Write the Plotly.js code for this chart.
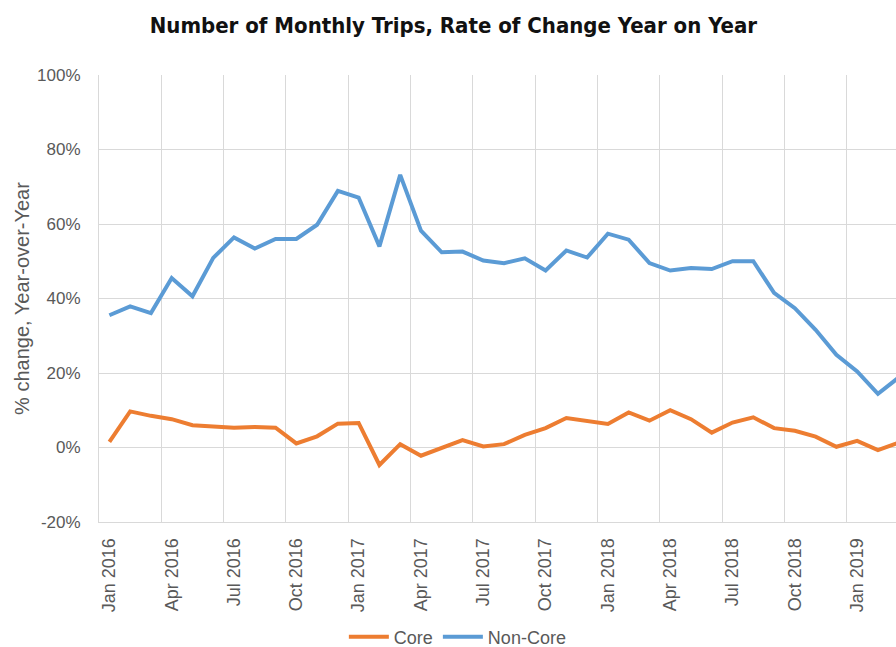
<!DOCTYPE html>
<html>
<head>
<meta charset="utf-8">
<script src="https://cdn.plot.ly/plotly-3.0.1.min.js"></script>
<style>
html,body{margin:0;padding:0;background:#fff;overflow:hidden;}
#chart{width:896px;height:647px;}
</style>
</head>
<body>
<div id="chart"></div>
<script>
var months = ["Jan 2016","Feb 2016","Mar 2016","Apr 2016","May 2016","Jun 2016","Jul 2016","Aug 2016","Sep 2016","Oct 2016","Nov 2016","Dec 2016",
  "Jan 2017","Feb 2017","Mar 2017","Apr 2017","May 2017","Jun 2017","Jul 2017","Aug 2017","Sep 2017","Oct 2017","Nov 2017","Dec 2017",
  "Jan 2018","Feb 2018","Mar 2018","Apr 2018","May 2018","Jun 2018","Jul 2018","Aug 2018","Sep 2018","Oct 2018","Nov 2018","Dec 2018",
  "Jan 2019","Feb 2019","Mar 2019"];
var core = [1.5, 9.7, 8.5, 7.6, 6.0, 5.6, 5.3, 5.5, 5.3, 1.1, 3.0, 6.4,
  6.6, -4.7, 0.9, -2.2, 0.0, 2.0, 0.3, 0.9, 3.4, 5.2, 7.9, 7.2,
  6.3, 9.4, 7.2, 10.0, 7.6, 4.0, 6.7, 8.1, 5.2, 4.5, 2.9, 0.2,
  1.8, -0.7, 1.3];
var nonCore = [35.5, 37.9, 36.1, 45.5, 40.6, 50.9, 56.4, 53.4, 56.0, 56.0, 59.8, 68.9,
  67.1, 54.0, 73.2, 58.2, 52.4, 52.6, 50.2, 49.5, 50.8, 47.5, 52.9, 51.0,
  57.4, 55.8, 49.5, 47.5, 48.2, 47.9, 50.0, 50.0, 41.5, 37.4, 31.6, 24.9,
  20.4, 14.4, 18.8];
var yTicks = [-20, 0, 20, 40, 60, 80, 100];

var font = "Liberation Sans, Arial, Helvetica, sans-serif";
var grey = "#595959";
var gridC = "#d9d9d9";

var traces = [
  {x: months, y: core, name: "Core", type: "scatter", mode: "lines",
   line: {color: "#ED7D31", width: 4}},
  {x: months, y: nonCore, name: "Non-Core", type: "scatter", mode: "lines",
   line: {color: "#5B9BD5", width: 4}}
];

var layout = {
  width: 896, height: 647,
  margin: {l: 99, r: 0, t: 75, b: 125, pad: 0, autoexpand: false},
  paper_bgcolor: "#fff", plot_bgcolor: "#fff",
  title: {
    text: "<b>Number of Monthly Trips, Rate of Change Year on Year</b>",
    font: {family: "Liberation Sans Narrow, Arial Narrow, DejaVu Sans Condensed, sans-serif", size: 22, color: "#111111"},
    x: 0.506, xref: "container", xanchor: "center",
    y: 0.961, yref: "container", yanchor: "middle"
  },
  xaxis: {
    type: "category",
    range: [-0.5, 37.87],
    tickmode: "linear", tick0: 0, dtick: 3,
    tickson: "boundaries",
    tickangle: -90,
    ticks: "",
    ticklabelstandoff: 8,
    tickfont: {family: font, size: 18, color: grey},
    showgrid: true, gridcolor: gridC, gridwidth: 1,
    showline: true, linecolor: gridC, linewidth: 1,
    zeroline: false, fixedrange: true, automargin: false
  },
  yaxis: {
    range: [-20, 100],
    tickmode: "array", tickvals: yTicks,
    ticktext: yTicks.map(function(v){return v + "%";}),
    ticks: "",
    ticklabelstandoff: 14,
    tickfont: {family: font, size: 17, color: grey},
    showgrid: true, gridcolor: gridC, gridwidth: 1,
    showline: true, linecolor: gridC, linewidth: 1,
    zeroline: false, fixedrange: true, automargin: false,
    title: {text: "% change, Year-over-Year", font: {family: font, size: 20, color: grey}, standoff: 2}
  },
  showlegend: true,
  legend: {
    orientation: "h",
    x: 0.511, xanchor: "center", xref: "container",
    y: 0.0155, yanchor: "middle", yref: "container",
    font: {family: font, size: 18, color: grey},
    itemwidth: 40,
    tracegroupgap: 0,
    bgcolor: "rgba(0,0,0,0)"
  }
};

Plotly.newPlot("chart", traces, layout, {staticPlot: true, displayModeBar: false});
</script>
</body>
</html>
